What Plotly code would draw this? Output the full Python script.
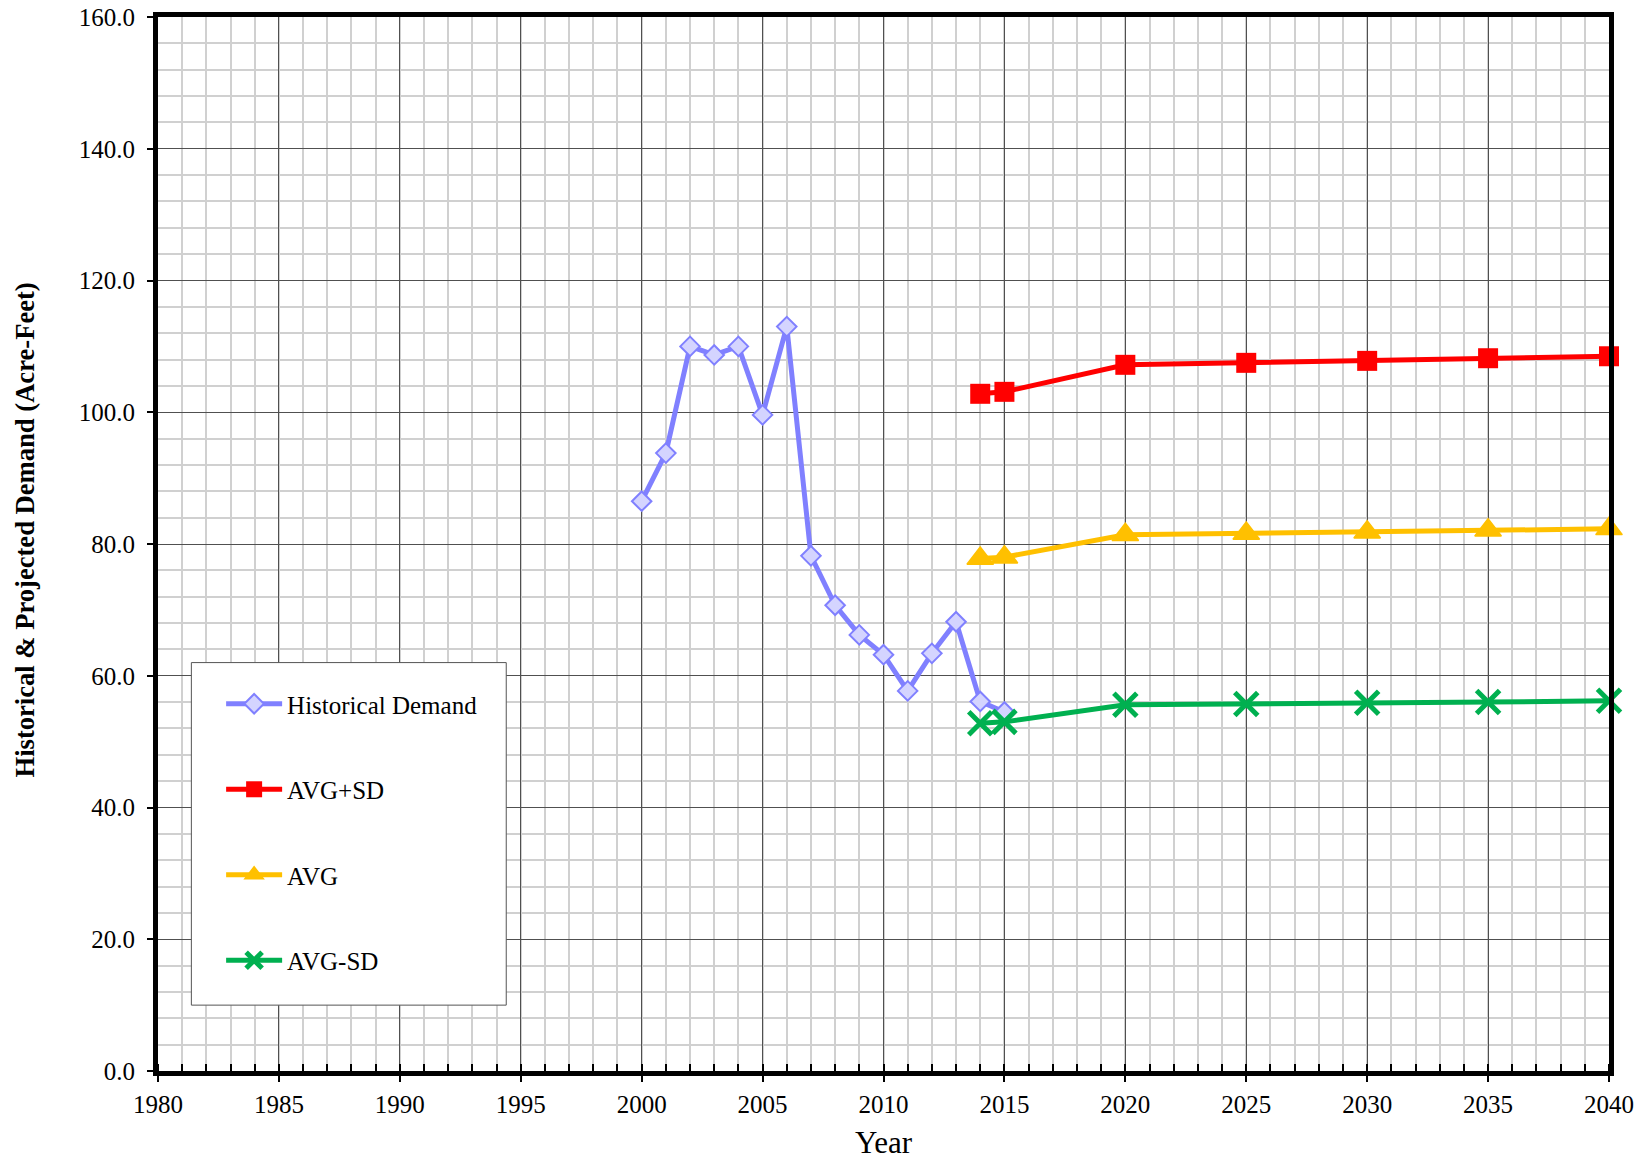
import plotly.graph_objects as go

# Historical water demand (acre-feet)
hist_years = list(range(2000, 2016))
hist_demand = [86.5, 93.8, 110.0, 108.7, 110.0, 99.6, 113.0, 78.2,
               70.7, 66.2, 63.2, 57.7, 63.4, 68.2, 56.1, 54.5]

# Projected demand scenarios
proj_years = [2014, 2015, 2020, 2025, 2030, 2035, 2040]
avg_plus_sd = [102.8, 103.1, 107.2, 107.5, 107.8, 108.2, 108.5]
avg = [77.8, 78.0, 81.4, 81.6, 81.8, 82.1, 82.3]
avg_minus_sd = [52.8, 53.0, 55.6, 55.7, 55.9, 56.0, 56.2]

series_names = ["Historical Demand", "AVG+SD", "AVG", "AVG-SD"]

FONT = "Liberation Serif, Times New Roman, serif"

fig = go.Figure()

fig.add_trace(go.Scatter(
    x=hist_years, y=hist_demand, name=series_names[0], mode="lines+markers",
    line=dict(color="#8080FF", width=5),
    marker=dict(symbol="diamond", size=15, color="#D4D4FF",
                line=dict(color="#8080FF", width=2)),
    legendgroup="g1", cliponaxis=False,
))
fig.add_trace(go.Scatter(
    x=proj_years, y=avg_plus_sd, name=series_names[1], mode="lines+markers",
    line=dict(color="#FF0000", width=5),
    marker=dict(symbol="square", size=20, color="#FF0000"),
    legendgroup="g2", cliponaxis=False,
))
fig.add_trace(go.Scatter(
    x=proj_years, y=avg, name=series_names[2], mode="lines+markers",
    line=dict(color="#FFC000", width=5),
    marker=dict(symbol="triangle-up", size=23, color="#FFC000",
                line=dict(color="#FFC000", width=1.5)),
    legendgroup="g3", cliponaxis=False,
))
fig.add_trace(go.Scatter(
    x=proj_years, y=avg_minus_sd, name=series_names[3], mode="lines+markers",
    line=dict(color="#00B050", width=5),
    marker=dict(symbol="x-thin", size=23, color="#00B050",
                line=dict(color="#00B050", width=5)),
    legendgroup="g4", cliponaxis=False,
))

# White legend panel with a thin border, drawn between grid and traces
fig.add_shape(
    type="rect", xref="x", yref="y", x0=1981.38, x1=1994.4, y0=10.0, y1=62.0,
    fillcolor="white", line=dict(color="#555555", width=1), layer="between",
)

fig.update_layout(
    width=1645, height=1160,
    margin=dict(l=158, r=36, t=17, b=89, autoexpand=False),
    paper_bgcolor="white", plot_bgcolor="white",
    font=dict(family=FONT, size=25, color="black"),
    showlegend=True,
    legend=dict(
        x=0.0435, y=0.370, xanchor="left", yanchor="top",
        bgcolor="rgba(0,0,0,0)", borderwidth=0,
        font=dict(family=FONT, size=25, color="black"),
        tracegroupgap=50, itemwidth=56,
    ),
    xaxis=dict(
        range=[1980, 2040], dtick=5, tick0=1980, automargin=False,
        showline=True, linecolor="black", linewidth=5, mirror=True,
        ticks="outside", ticklen=6, tickwidth=1.5, tickcolor="black",
        showgrid=True, gridcolor="#505050", gridwidth=1,
        zeroline=False, ticklabelstandoff=1,
        tickfont=dict(family=FONT, size=25),
        minor=dict(dtick=1, showgrid=True, gridcolor="#D0D0D0", gridwidth=1.5,
                   ticks="inside", ticklen=7, tickwidth=1.5, tickcolor="black"),
    ),
    yaxis=dict(
        range=[0, 160], dtick=20, tick0=0, tickformat=".1f", automargin=False,
        showline=True, linecolor="black", linewidth=5, mirror=True,
        ticks="outside", ticklen=6, tickwidth=1.5, tickcolor="black",
        showgrid=True, gridcolor="#505050", gridwidth=1,
        zeroline=False, ticklabelstandoff=7,
        tickfont=dict(family=FONT, size=25),
        minor=dict(dtick=4, showgrid=True, gridcolor="#D0D0D0", gridwidth=1.5),
    ),
    annotations=[
        dict(text="Year", xref="paper", yref="paper", x=0.5, y=-0.068,
             xanchor="center", yanchor="middle", showarrow=False,
             font=dict(family=FONT, size=31, color="black")),
        dict(text="<b>Historical & Projected Demand (Acre-Feet)</b>",
             xref="paper", yref="paper", x=-0.0915, y=0.513, textangle=-90,
             xanchor="center", yanchor="middle", showarrow=False,
             font=dict(family=FONT, size=26.6, color="black")),
    ],
)

fig.write_html("out.html")
